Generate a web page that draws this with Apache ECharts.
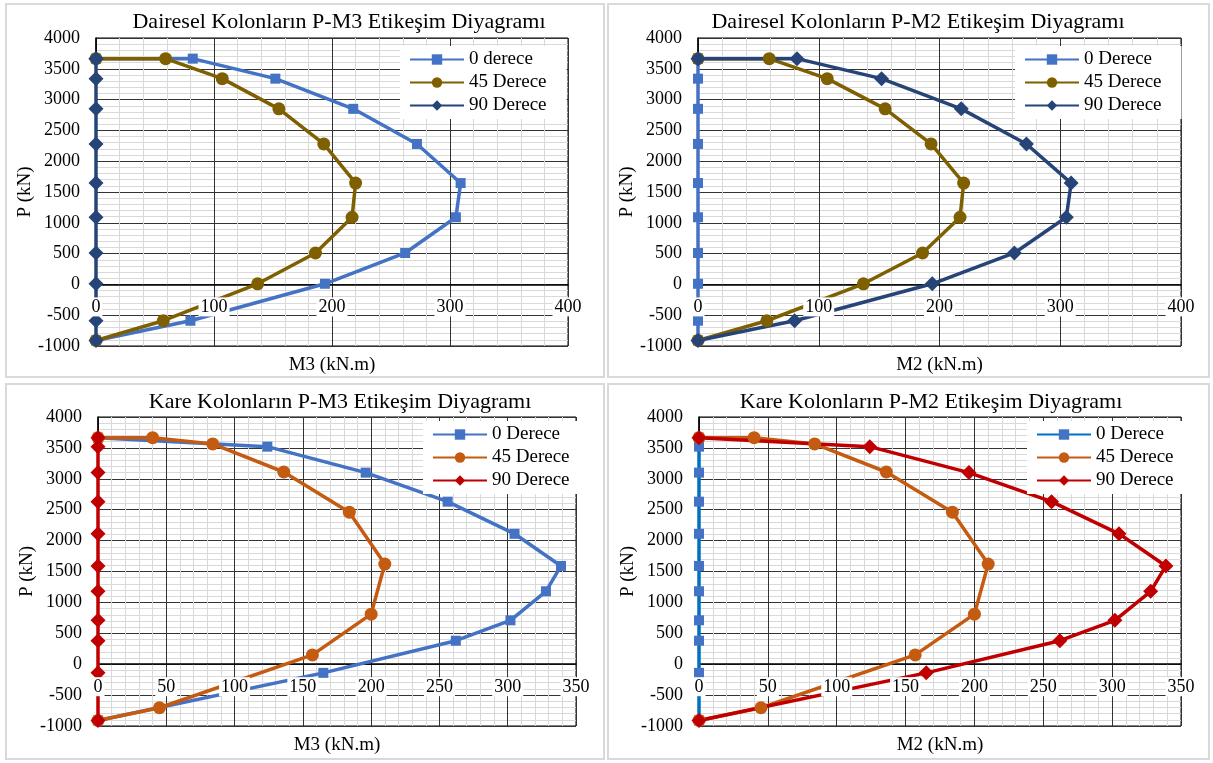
<!DOCTYPE html>
<html><head><meta charset="utf-8">
<script src="https://cdn.jsdelivr.net/npm/echarts@6/dist/echarts.min.js"></script>
<style>html,body{margin:0;padding:0;background:#fff}#c{width:1213px;height:763px}</style>
</head><body><div id="c"></div><script>
// ---- Dairesel (circular) columns ----
const circP      = [3665, 3665, 3340, 2850, 2280, 1645, 1090, 510, 10, -590, -910];
const circM      = [0, 82, 152, 218, 272, 309, 305, 262, 194, 80, 0];
const circP45    = [3665, 3665, 3340, 2850, 2280, 1645, 1090, 510, 10, -590, -910];
const circM45    = [0, 59, 107, 155, 193, 220, 217, 186, 137, 57, 0];
const circMzero  = [0, 0, 0, 0, 0, 0, 0, 0, 0, 0, 0];
// ---- Kare (square) columns ----
const kareP      = [3665, 3520, 3100, 2630, 2110, 1590, 1180, 710, 380, -140, -910];
const kareM      = [0, 124, 196, 256, 305, 339, 328, 302, 262, 165, 0];
const kareP45    = [3665, 3665, 3565, 3110, 2460, 1620, 810, 150, -705, -910];
const kareM45    = [0, 40, 84, 136, 184, 210, 200, 157, 45, 0];
const kareMzero  = [0, 0, 0, 0, 0, 0, 0, 0, 0, 0, 0];
// ---- axes ----
const yTicks = {min: -1000, max: 4000, interval: 500};
const xCirc  = {min: 0, max: 400, interval: 100};
const xKare  = {min: 0, max: 350, interval: 50};

const FONT = 'Liberation Serif';
const panels = [
  {title: 'Dairesel Kolonların P-M3 Etikeşim Diyagramı', tx: 339, ty: 11,
   grid: {left: 96, top: 38, width: 472, height: 308}, x: xCirc, xName: 'M3 (kN.m)',
   legend: {left: 400, top: 46},
   series: [
     {name: '0 derece',  m: circM,     p: circP,   color: '#4472C4', line: '#4472C4', symbol: 'rect',    size: 10},
     {name: '45 Derece', m: circM45,   p: circP45, color: '#7F6000', line: '#7F6000', symbol: 'circle',  size: 13},
     {name: '90 Derece', m: circMzero, p: circP,   color: '#264478', line: '#264478', symbol: 'diamond', size: 15}]},
  {title: 'Dairesel Kolonların P-M2 Etikeşim Diyagramı', tx: 918, ty: 11,
   grid: {left: 698, top: 38, width: 483, height: 308}, x: xCirc, xName: 'M2 (kN.m)',
   legend: {left: 1015, top: 46},
   series: [
     {name: '0 Derece',  m: circMzero, p: circP,   color: '#4472C4', line: '#4472C4', symbol: 'rect',    size: 10},
     {name: '45 Derece', m: circM45,   p: circP45, color: '#7F6000', line: '#7F6000', symbol: 'circle',  size: 13},
     {name: '90 Derece', m: circM,     p: circP,   color: '#264478', line: '#264478', symbol: 'diamond', size: 15}]},
  {title: 'Kare Kolonların P-M3 Etikeşim Diyagramı', tx: 340, ty: 391,
   grid: {left: 98, top: 417, width: 478, height: 309}, x: xKare, xName: 'M3 (kN.m)',
   legend: {left: 423, top: 421},
   series: [
     {name: '0 Derece',  m: kareM,     p: kareP,   color: '#4472C4', line: '#4472C4', symbol: 'rect',    size: 10},
     {name: '45 Derece', m: kareM45,   p: kareP45, color: '#C55A11', line: '#C55A11', symbol: 'circle',  size: 13},
     {name: '90 Derece', m: kareMzero, p: kareP,   color: '#C00000', line: '#C00000', symbol: 'diamond', size: 15}]},
  {title: 'Kare Kolonların P-M2 Etikeşim Diyagramı', tx: 931, ty: 391,
   grid: {left: 699, top: 417, width: 482, height: 309}, x: xKare, xName: 'M2 (kN.m)',
   legend: {left: 1027, top: 421},
   series: [
     {name: '0 Derece',  m: kareMzero, p: kareP,   color: '#4472C4', line: '#0070C0', symbol: 'rect',    size: 10},
     {name: '45 Derece', m: kareM45,   p: kareP45, color: '#C55A11', line: '#C55A11', symbol: 'circle',  size: 13},
     {name: '90 Derece', m: kareM,     p: kareP,   color: '#C00000', line: '#C00000', symbol: 'diamond', size: 15}]}
];

const option = {animation: false, backgroundColor: '#fff',
  title: [], grid: [], xAxis: [], yAxis: [], legend: [], series: [], graphic: []};

const frames = [[6, 4, 598, 373], [608, 4, 601, 373], [6, 384, 598, 375], [608, 384, 601, 375]];
frames.forEach(f => option.graphic.push({type: 'rect', silent: true, z: -10,
  shape: {x: f[0], y: f[1], width: f[2], height: f[3]},
  style: {fill: 'none', stroke: '#D9D9D9', lineWidth: 2}}));

const labelStyle = {fontFamily: FONT, fontSize: 18, color: '#000', formatter: v => String(v)};

panels.forEach((pn, k) => {
  option.title.push({text: pn.title, left: pn.tx, top: pn.ty, textAlign: 'center', padding: 0,
    textStyle: {fontFamily: FONT, fontSize: 22, fontWeight: 'normal', color: '#000'}});
  option.grid.push(Object.assign({show: true, borderColor: '#000', borderWidth: 1,
    backgroundColor: 'transparent', containLabel: false, outerBoundsMode: 'none'}, pn.grid));
  option.grid.push(Object.assign({show: false, containLabel: false, outerBoundsMode: 'none'}, pn.grid));
  const g = 2 * k, gl = 2 * k + 1;
  // offset that moves a bottom axis up to P = 0
  const zeroOffset = -pn.grid.height * (0 - yTicks.min) / (yTicks.max - yTicks.min);
  option.xAxis.push({type: 'value', gridIndex: g, position: 'bottom', offset: zeroOffset,
    min: pn.x.min, max: pn.x.max, interval: pn.x.interval,
    name: pn.xName, nameLocation: 'middle', nameGap: 71,
    nameTextStyle: {fontFamily: FONT, fontSize: 19, color: '#000'},
    axisLine: {show: true, onZero: false, lineStyle: {color: '#000', width: 1.5}},
    axisTick: {show: false}, axisLabel: {show: false},
    splitLine: {show: true, lineStyle: {color: '#333333', width: 1}},
    minorTick: {show: false, splitNumber: 5},
    minorSplitLine: {show: true, lineStyle: {color: '#D9D9D9', width: 1}}});
  option.yAxis.push({type: 'value', gridIndex: g, min: yTicks.min, max: yTicks.max, interval: yTicks.interval,
    name: 'P (kN)', nameLocation: 'middle', nameGap: 56, nameRotate: 90,
    nameTextStyle: {fontFamily: FONT, fontSize: 19, color: '#000'},
    axisLine: {show: true, onZero: false, lineStyle: {color: '#000', width: 1.5}},
    axisTick: {show: false},
    axisLabel: Object.assign({margin: 16}, labelStyle),
    splitLine: {show: true, lineStyle: {color: '#333333', width: 1}},
    minorTick: {show: false, splitNumber: 5},
    minorSplitLine: {show: true, lineStyle: {color: '#D9D9D9', width: 1}}});
  option.xAxis.push({type: 'value', gridIndex: gl, position: 'bottom', offset: zeroOffset,
    min: pn.x.min, max: pn.x.max, interval: pn.x.interval,
    z: 10, axisLine: {show: false, onZero: false}, axisTick: {show: false}, splitLine: {show: false},
    axisLabel: Object.assign({margin: 13, backgroundColor: '#fff', padding: [1, 2, 0, 2],
      showMinLabel: true, showMaxLabel: true, hideOverlap: false}, labelStyle)});
  option.yAxis.push({type: 'value', gridIndex: gl, show: false, min: yTicks.min, max: yTicks.max,
    interval: yTicks.interval, axisLine: {onZero: false}});

  const names = [];
  pn.series.forEach(s => {
    const id = 'p' + k + '|' + s.name;
    names.push(id);
    option.series.push({type: 'line', name: id, xAxisIndex: g, yAxisIndex: g,
      data: s.m.map((v, i) => [v, s.p[i]]),
      symbol: s.symbol, symbolSize: s.size, showSymbol: true,
      lineStyle: {color: s.line, width: 3.5}, itemStyle: {color: s.color},
      emphasis: {disabled: true}});
  });
  option.legend.push({data: names, orient: 'vertical', left: pn.legend.left, top: pn.legend.top,
    backgroundColor: '#fff', padding: [4, 20, 4, 9], itemGap: 4, itemWidth: 54, itemHeight: 13,
    selectedMode: false, formatter: n => n.split('|')[1],
    textStyle: {fontFamily: FONT, fontSize: 19, color: '#000'}});
});

const chart = echarts.init(document.getElementById('c'), null, {renderer: 'canvas'});
chart.setOption(option);
</script></body></html>
